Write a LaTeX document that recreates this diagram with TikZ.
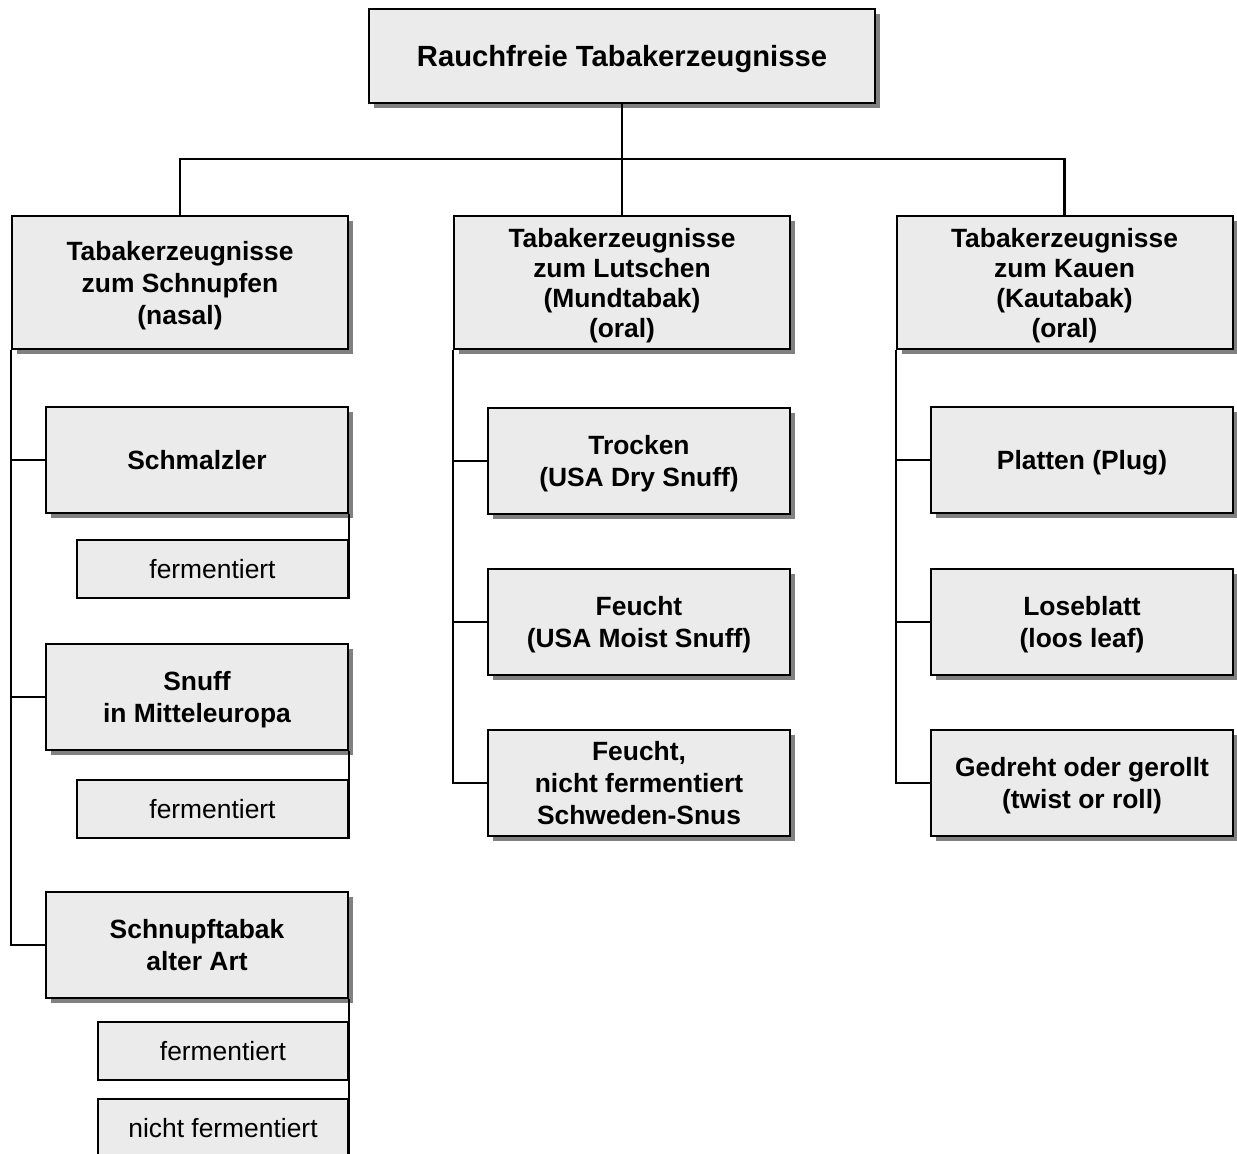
\documentclass[tikz,border=0pt]{standalone}
\usepackage{fontspec}
\setmainfont{Liberation Sans}
\usetikzlibrary{shadows}

\begin{document}
\begin{tikzpicture}[
    x=0.5pt,
    y=-0.5pt,
    line width=1pt,
    box/.style={
        rectangle,
        draw,
        fill=black!8,
        inner sep=0pt,
        text depth=0pt,
        align=center,
        font=\fontsize{13.2}{16}\bfseries\selectfont,
    },
    shadowbox/.style={
        box,
        drop shadow={shadow xshift=2.7pt, shadow yshift=-2.7pt, fill=black!50, opacity=1},
    },
    top/.style={
        shadowbox,
        minimum width=253pt,
        minimum height=47pt,
        font=\fontsize{14.6}{17}\bfseries\selectfont,
    },
    group/.style={
        shadowbox,
        minimum width=168pt,
        minimum height=66.5pt,
    },
    kind/.style={
        shadowbox,
        minimum width=151pt,
        minimum height=53pt,
    },
    sub/.style={
        box,
        minimum height=29pt,
        font=\fontsize{13.2}{16}\selectfont,
    },
]
    \useasboundingbox (0,0) rectangle (1237,1153);
    \clip (0,0) rectangle (1237,1153);

    \node (root) [top] at (622,56) {Rauchfreie Tabakerzeugnisse};

    \begin{scope}[
        every node/.append style={
            group,
        },
    ]
        \node (nasal) at (180,282.5)  {Tabakerzeugnisse\\zum Schnupfen\\(nasal)};
        \node (lutsch) [font=\fontsize{13.2}{15}\bfseries\selectfont] at (622,282.5)
            {Tabakerzeugnisse\\zum Lutschen\\(Mundtabak)\\(oral)};
        \node (kau) [font=\fontsize{13.2}{15}\bfseries\selectfont] at (1064.5,282.5)
            {Tabakerzeugnisse\\zum Kauen\\(Kautabak)\\(oral)};
    \end{scope}

    \begin{scope}[
        every node/.append style={
            kind,
        },
    ]
        % nasal
        \node (schmalz) at (197,460)   {Schmalzler};
        \node (snuff)   at (197,697)   {Snuff\\in Mitteleuropa};
        \node (altart)  at (197,945)   {Schnupftabak\\alter Art};
        % oral, Lutschen
        \node (trocken) at (639,460.5) {Trocken\\(USA Dry Snuff)};
        \node (feucht)  at (639,622)   {Feucht\\(USA Moist Snuff)};
        \node (snus)    at (639,782.5) {Feucht,\\nicht fermentiert\\Schweden-Snus};
        % oral, Kauen
        \node (plug)    at (1082,460)  {Platten (Plug)};
        \node (lose)    at (1082,622)  {Loseblatt\\(loos leaf)};
        \node (twist)   at (1082,782.5){Gedreht oder gerollt\\(twist or roll)};
    \end{scope}

    \begin{scope}[
        every node/.append style={
            sub,
        },
    ]
        \node (fermA) [minimum width=135.5pt] at (212.5,569)  {fermentiert};
        \node (fermB) [minimum width=135.5pt] at (212.5,809)  {fermentiert};
        \node (fermC) [minimum width=125pt]   at (223,1050.5) {fermentiert};
        \node (nferm) [minimum width=125pt]   at (223,1127.5) {nicht fermentiert};
    \end{scope}

    \coordinate (bar) at (622,159);

    \draw (root) -- (bar);
    \draw [line width=1.4pt] (nasal.north) |- (bar) -| (kau.north);
    \draw (bar) -- (lutsch.north);

    \draw (nasal.south west)  |- (schmalz.west)
          (nasal.south west)  |- (snuff.west)
          (nasal.south west)  |- (altart.west);
    \draw (lutsch.south west) |- (trocken.west)
          (lutsch.south west) |- (feucht.west)
          (lutsch.south west) |- (snus.west);
    \draw (kau.south west)    |- (plug.west)
          (kau.south west)    |- (lose.west)
          (kau.south west)    |- (twist.west);

    \draw (schmalz.south east) -- (fermA.south east);
    \draw (snuff.south east)   -- (fermB.south east);
    \draw (altart.south east)  -- (nferm.south east);
\end{tikzpicture}
\end{document}
